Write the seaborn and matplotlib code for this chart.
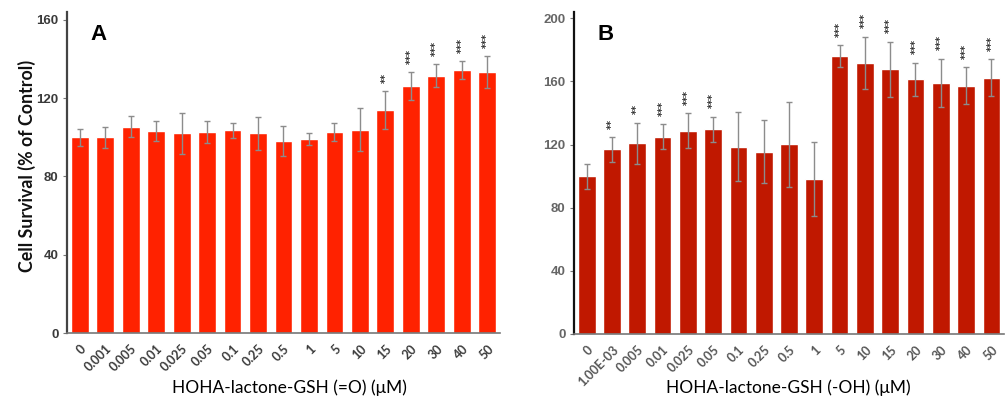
import numpy as np
import pandas as pd
import matplotlib
matplotlib.use("Agg")
import matplotlib.pyplot as plt
import seaborn as sns

sns.set_theme(style="white")
plt.rcParams['font.family'] = ['Lato', 'DejaVu Sans']

# ---------------- data ----------------
labels_a = ["0", "0.001", "0.005", "0.01", "0.025", "0.05", "0.1", "0.25", "0.5",
            "1", "5", "10", "15", "20", "30", "40", "50"]
values_a = [100, 100, 105.5, 103.3, 102, 102.8, 103.6, 102, 98.3, 99, 102.8, 103.9,
            113.7, 126.1, 131.4, 134.3, 133.4]
errors_a = [4.4, 5.5, 5.3, 5.2, 10.6, 5.7, 3.9, 8.5, 7.7, 3.2, 4.7, 10.8, 9.7, 7.3,
            5.8, 4.6, 8.1]
stars_a = ["", "", "", "", "", "", "", "", "", "", "", "", "**", "***", "***", "***", "***"]

labels_b = ["0", "1.00E-03", "0.005", "0.01", "0.025", "0.05", "0.1", "0.25", "0.5",
            "1", "5", "10", "15", "20", "30", "40", "50"]
values_b = [100, 117, 120.8, 125.1, 128.7, 129.7, 118.7, 115.6, 120.2, 98.2, 176.2,
            171.8, 167.8, 161.4, 159.3, 157.4, 162.3]
errors_b = [8, 7.9, 13, 8, 11, 7.9, 22, 20, 27, 23.5, 6.8, 16.5, 17.5, 10.4, 15.2,
            11.5, 11.7]
stars_b = ["", "**", "**", "***", "***", "***", "", "", "", "", "***", "***", "***",
           "***", "***", "***", "***"]

W, H = 1008, 401
fig = plt.figure(figsize=(W / 100, H / 100), dpi=100)

def px_axes(l, r, t, b):
    return fig.add_axes([l / W, 1 - b / H, (r - l) / W, (b - t) / H])

ax_a = px_axes(67, 500, 12, 333)
ax_b = px_axes(574, 1004, 12, 334)


def draw(ax, labels, values, errors, stars, color, ymax, yticks, xlabel, xlab_x,
         panel, tickcol, ycol, spinecol):
    df = pd.DataFrame({"conc": labels, "val": values})
    sns.barplot(data=df, x="conc", y="val", color=color, saturation=1, width=0.7,
                errorbar=None, ax=ax, zorder=2)
    xs = np.arange(len(labels))
    ax.errorbar(xs, values, yerr=errors, fmt="none", ecolor="#8c8c8c",
                elinewidth=1.0, capsize=2, capthick=1.0, zorder=3)
    for x, v, e, s in zip(xs, values, errors, stars):
        if s:
            ax.annotate(s, (x, v + e), xytext=(0, 6), textcoords="offset points",
                        rotation=90, ha="center", va="bottom", fontsize=7,
                        fontweight="bold", color="#2a2a2a", family="DejaVu Sans")
    ax.set_xlim(-0.5, 16.5)
    ax.set_ylim(0, ymax)
    ax.set_yticks(yticks)
    ax.set_yticklabels([str(t) for t in yticks], fontsize=9.5, fontweight="bold",
                       color=ycol, family="Liberation Sans")
    ax.set_xticks(xs)
    ax.set_xticklabels(labels, rotation=45, ha="right", va="top",
                       rotation_mode="anchor", fontsize=9, fontweight="bold",
                       color=tickcol)
    ax.tick_params(axis="x", length=0, pad=7)
    ax.tick_params(axis="y", length=3, width=0.8, color="#777777", pad=3, left=True)
    ax.set_xlabel("")
    ax.set_ylabel("")
    for sp in ["top", "right"]:
        ax.spines[sp].set_visible(False)
    ax.spines["left"].set_color(spinecol)
    ax.spines["left"].set_linewidth(1.6)
    ax.spines["bottom"].set_color("#777777")
    ax.spines["bottom"].set_linewidth(1.2)
    ax.text(0.055, 0.93, panel, transform=ax.transAxes, fontsize=16,
            fontweight="bold", color="black", family="Liberation Sans",
            ha="left", va="center")
    fig.text(xlab_x / W, 1 - 388 / H, xlabel, ha="center", va="center",
             fontsize=12.5, color="black")


draw(ax_a, labels_a, values_a, errors_a, stars_a, "#FF2200", 164,
     [0, 40, 80, 120, 160], "HOHA-lactone-GSH (=O) (\u03bcM)", 289, "A",
     "#3a3a3a", "#3a3a3a", "#444444")
draw(ax_b, labels_b, values_b, errors_b, stars_b, "#C01800", 204,
     [0, 40, 80, 120, 160, 200], "HOHA-lactone-GSH (-OH) (\u03bcM)", 788, "B",
     "#555555", "#666666", "#111111")

fig.text(27 / W, 1 - 166 / H, "Cell Survival (% of Control)", rotation=90,
         ha="center", va="center", fontsize=12.8, fontweight="bold", color="#111111")

fig.savefig("out.png", dpi=100)
